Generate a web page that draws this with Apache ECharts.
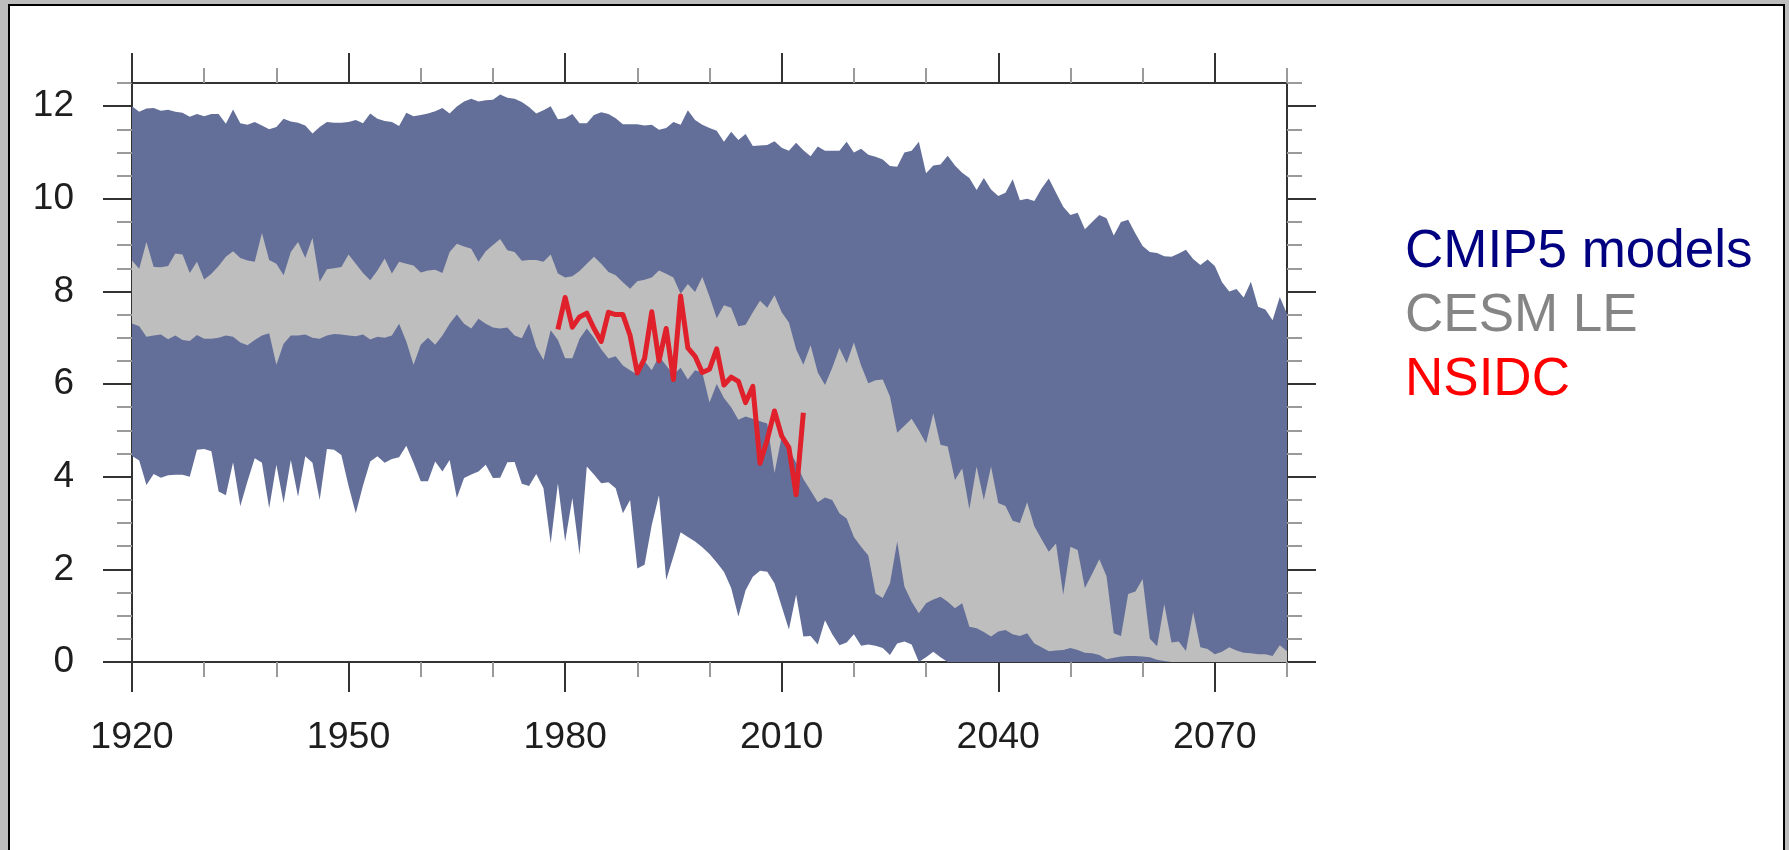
<!DOCTYPE html>
<html>
<head>
<meta charset="utf-8">
<title>Arctic sea ice extent</title>
<script src="https://cdn.jsdelivr.net/npm/echarts@6/dist/echarts.min.js"></script>
<style>
  html, body { margin: 0; padding: 0; width: 1789px; height: 850px; overflow: hidden; background: #bdbdbd; }
  #frame { position: absolute; left: 8px; top: 4px; width: 1777px; height: 900px; box-sizing: border-box;
           border: 2px solid #000; border-bottom: none; background: #fff; }
  #chart { position: absolute; left: 0; top: 0; width: 1789px; height: 850px; }
</style>
</head>
<body>
<div id="frame"></div>
<div id="chart"></div>
<script>
// Annual values, one per year starting at firstYear
const firstYear = 1920;

// CMIP5 models: ensemble maximum and minimum (million km²)
const cmipMax = [
  12.0, 11.88, 11.95, 11.96, 11.9, 11.92, 11.88, 11.86, 11.77, 11.83,
  11.78, 11.83, 11.83, 11.62, 11.93, 11.63, 11.6, 11.66, 11.58, 11.5,
  11.55, 11.73, 11.67, 11.64, 11.58, 11.41, 11.55, 11.66, 11.64, 11.64,
  11.66, 11.7, 11.63, 11.84, 11.73, 11.68, 11.66, 11.57, 11.86, 11.78,
  11.81, 11.84, 11.89, 11.96, 11.84, 11.99, 12.1, 12.16, 12.1, 12.13,
  12.14, 12.25, 12.18, 12.16, 12.09, 11.98, 11.84, 11.91, 12.0, 11.72,
  11.74, 11.83, 11.63, 11.63, 11.81, 11.87, 11.83, 11.74, 11.61, 11.61,
  11.61, 11.58, 11.6, 11.49, 11.53, 11.66, 11.6, 11.91, 11.7, 11.6,
  11.53, 11.47, 11.23, 11.45, 11.27, 11.4, 11.14, 11.15, 11.16, 11.24,
  11.1, 11.04, 11.21, 11.05, 10.92, 11.13, 11.04, 11.04, 11.04, 11.23,
  11.0, 11.08, 10.95, 10.91, 10.85, 10.71, 10.69, 11.0, 11.04, 11.23,
  10.55, 10.72, 10.74, 10.93, 10.72, 10.56, 10.45, 10.19, 10.45, 10.2,
  10.06, 10.13, 10.42, 9.97, 10.0, 9.95, 10.22, 10.44, 10.13, 9.83,
  9.65, 9.7, 9.34, 9.5, 9.65, 9.58, 9.21, 9.5, 9.55, 9.25,
  8.98, 8.85, 8.83, 8.76, 8.75, 8.82, 8.9, 8.7, 8.57, 8.69,
  8.55, 8.2, 8.0, 8.05, 7.87, 8.21, 7.67, 7.61, 7.38, 7.88,
  7.52
];
const cmipMin = [
  4.45, 4.35, 3.82, 4.06, 3.98, 4.03, 4.04, 4.04, 4.0, 4.58,
  4.6, 4.55, 3.68, 3.6, 4.31, 3.36, 3.9, 4.4, 4.3, 3.32,
  4.26, 3.43, 4.36, 3.57, 4.44, 4.3, 3.5, 4.6, 4.58, 4.47,
  3.8, 3.21, 3.81, 4.33, 4.44, 4.3, 4.38, 4.42, 4.67, 4.3,
  3.9, 3.9, 4.33, 4.11, 4.36, 3.54, 3.97, 4.05, 4.11, 4.26,
  3.97, 3.98, 4.31, 4.32, 3.85, 3.8, 4.06, 3.75, 2.56, 3.86,
  2.6, 3.54, 2.31, 4.22, 4.05, 3.86, 3.88, 3.75, 3.21, 3.5,
  2.02, 2.1, 2.96, 3.6, 1.77, 2.28, 2.8, 2.7, 2.6, 2.48,
  2.33, 2.15, 1.95, 1.6, 0.98, 1.55, 1.84, 1.97, 1.95, 1.7,
  1.2, 0.7, 1.45, 0.55, 0.56, 0.38, 0.9, 0.6, 0.36, 0.42,
  0.6, 0.35, 0.38, 0.35, 0.3, 0.15, 0.4, 0.44, 0.38, 0.0,
  0.1, 0.22, 0.1, 0, 0, 0, 0, 0, 0, 0,
  0, 0, 0, 0, 0, 0, 0, 0, 0, 0,
  0, 0, 0, 0, 0, 0, 0, 0, 0, 0,
  0, 0, 0, 0, 0, 0, 0, 0, 0, 0,
  0, 0, 0, 0, 0, 0, 0, 0, 0, 0,
  0
];

// CESM Large Ensemble: ensemble maximum and minimum
const cesmMax = [
  8.67, 8.49, 9.07, 8.53, 8.52, 8.55, 8.82, 8.8, 8.4, 8.64,
  8.26, 8.38, 8.55, 8.75, 8.87, 8.72, 8.67, 8.64, 9.26, 8.68,
  8.6, 8.35, 8.85, 9.07, 8.72, 9.16, 8.21, 8.48, 8.5, 8.53,
  8.8, 8.6, 8.4, 8.24, 8.45, 8.71, 8.39, 8.64, 8.6, 8.56,
  8.41, 8.45, 8.47, 8.4, 8.85, 9.03, 8.97, 8.92, 8.64, 8.87,
  9.0, 9.13, 8.89, 8.85, 8.66, 8.68, 8.68, 8.64, 8.8, 8.39,
  8.3, 8.33, 8.44, 8.6, 8.75, 8.6, 8.42, 8.35, 8.2, 8.06,
  8.22, 8.25, 8.3, 8.45, 8.38, 8.3, 7.95, 8.16, 7.99, 8.31,
  7.89, 7.42, 7.7, 7.65, 7.25, 7.28, 7.55, 7.8, 7.65, 7.92,
  7.55, 7.33, 6.75, 6.42, 6.84, 6.25, 5.98, 6.35, 6.78, 6.45,
  6.9, 6.4, 6.02, 6.08, 6.1, 5.73, 4.95, 5.1, 5.25, 5.0,
  4.72, 5.37, 4.69, 4.65, 3.93, 4.18, 3.3, 4.22, 3.5, 4.22,
  3.43, 3.37, 3.05, 3.0, 3.45, 2.93, 2.65, 2.38, 2.56, 1.45,
  2.49, 2.42, 1.6, 1.9, 2.22, 1.85, 0.62, 0.56, 1.47, 1.52,
  1.79, 0.5, 0.34, 1.25, 0.42, 0.44, 0.24, 1.08, 0.32, 0.28,
  0.17, 0.22, 0.32, 0.25, 0.2, 0.19, 0.17, 0.17, 0.13, 0.36,
  0.23
];
const cesmMin = [
  7.31, 7.25, 7.02, 7.05, 7.07, 6.97, 7.05, 6.95, 6.93, 7.06,
  6.98, 6.98, 7.0, 7.05, 7.02, 6.9, 6.84, 6.95, 7.05, 7.1,
  6.42, 6.87, 7.05, 7.05, 7.07, 7.0, 6.98, 7.05, 7.08, 7.07,
  7.05, 7.03, 7.07, 6.96, 7.02, 7.0, 7.05, 7.3, 6.92, 6.42,
  6.85, 7.0, 6.85, 7.05, 7.3, 7.5, 7.3, 7.2, 7.41, 7.3,
  7.22, 7.2, 7.22, 7.05, 6.99, 7.31, 6.8, 6.52, 7.16, 6.95,
  6.56, 6.56, 6.98, 7.2, 7.0, 6.75, 6.55, 6.6, 6.4, 6.3,
  6.2, 6.5, 6.3, 6.6, 6.4, 6.2, 6.35, 6.1, 6.3, 6.25,
  5.6, 6.0, 5.7, 5.5, 5.23, 5.3, 5.25, 5.2, 5.15, 4.08,
  4.87, 4.58, 4.3, 3.95, 3.7, 3.45, 3.55, 3.5, 3.21, 3.1,
  2.7, 2.49, 2.3, 1.48, 1.38, 1.7, 2.6, 1.63, 1.3, 1.05,
  1.27, 1.35, 1.41, 1.3, 1.16, 1.27, 0.76, 0.73, 0.65, 0.55,
  0.66, 0.69, 0.6, 0.56, 0.62, 0.4, 0.32, 0.23, 0.25, 0.26,
  0.3, 0.26, 0.2, 0.19, 0.15, 0.06, 0.09, 0.12, 0.13, 0.13,
  0.12, 0.1, 0.05, 0.02, 0, 0, 0, 0, 0, 0,
  0, 0, 0, 0, 0, 0, 0, 0, 0, 0,
  0
];

// NSIDC observations, 1979-2013
const nsidcFirstYear = 1979;
const nsidc = [
  7.18, 7.87, 7.23, 7.45, 7.53, 7.2, 6.92, 7.55, 7.5, 7.5,
  7.05, 6.24, 6.55, 7.56, 6.5, 7.2, 6.1, 7.9, 6.78, 6.6,
  6.25, 6.32, 6.76, 5.98, 6.15, 6.06, 5.6, 5.95, 4.29, 4.8,
  5.42, 4.88, 4.63, 3.61, 5.38
];

// Axis ticks
const xMajorTicks = [1920, 1950, 1980, 2010, 2040, 2070];
const xMinorTicks = [1930, 1940, 1960, 1970, 1990, 2000, 2020, 2030, 2050, 2060, 2080];
const yMajorTicks = [0, 2, 4, 6, 8, 10, 12];
const yMinorTicks = [0.5, 1, 1.5, 2.5, 3, 3.5, 4.5, 5, 5.5, 6.5, 7, 7.5, 8.5, 9, 9.5, 10.5, 11, 11.5, 12.5];

// Legend entries
const legendNames = ['CMIP5 models', 'CESM LE', 'NSIDC'];
const legendColors = ['#000080', '#858585', '#ff0000'];

const BLUE = '#636f99';
const GREY = '#bebebe';
const RED = '#e0202a';
const AXIS = '#333333';
const MINOR = '#9a9a9a';
const FONT = 'Liberation Sans, Arial, Helvetica, sans-serif';

const X_MIN = 1920, X_MAX = 2080, Y_MIN = 0, Y_MAX = 12.5;

function xAxisDef(pos, ticks, len, color, withLine, withLabels) {
  return {
    type: 'value', position: pos, min: X_MIN, max: X_MAX,
    splitLine: { show: false },
    axisLine: { show: withLine, onZero: false, lineStyle: { color: AXIS, width: 2 } },
    axisTick: { show: true, customValues: ticks, length: len, lineStyle: { color: color, width: 2 } },
    axisLabel: withLabels ? {
      show: true, customValues: ticks, margin: 57,
      fontSize: 37.5, color: '#1e1e1e', fontFamily: FONT,
      formatter: (v) => String(v)
    } : { show: false }
  };
}
function yAxisDef(pos, ticks, len, color, withLine, withLabels) {
  return {
    type: 'value', position: pos, min: Y_MIN, max: Y_MAX,
    splitLine: { show: false },
    axisLine: { show: withLine, onZero: false, lineStyle: { color: AXIS, width: 2 } },
    axisTick: { show: true, customValues: ticks, length: len, lineStyle: { color: color, width: 2 } },
    axisLabel: withLabels ? {
      show: true, customValues: ticks, margin: 58,
      fontSize: 37, color: '#1e1e1e', fontFamily: FONT,
      padding: [8, 0, 0, 0],
      formatter: (v) => String(v)
    } : { show: false }
  };
}

// A filled band between the yearly lower and upper bounds, drawn as one polygon
function bandSeries(name, upper, lower, color) {
  const rows = upper.map((v, i) => [firstYear + i, lower[i], v]);
  return {
    type: 'custom', name: name, data: rows,
    encode: { x: 0, y: [1, 2] },
    silent: true, clip: true,
    renderItem: (params, api) => {
      if (params.dataIndex !== 0) return null;
      const top = rows.map(r => api.coord([r[0], r[2]]));
      const bottom = rows.slice().reverse().map(r => api.coord([r[0], r[1]]));
      return {
        type: 'polygon',
        shape: { points: top.concat(bottom) },
        style: { fill: color, stroke: null }
      };
    }
  };
}

const chart = echarts.init(document.getElementById('chart'), null, { renderer: 'canvas' });

chart.setOption({
  animation: false,
  backgroundColor: 'transparent',
  grid: { left: 132, top: 83, width: 1155, height: 579, containLabel: false },
  xAxis: [
    xAxisDef('bottom', xMajorTicks, 30, AXIS, true, true),
    xAxisDef('bottom', xMinorTicks, 15, MINOR, false, false),
    xAxisDef('top', xMajorTicks, 30, AXIS, true, false),
    xAxisDef('top', xMinorTicks, 15, MINOR, false, false)
  ],
  yAxis: [
    yAxisDef('left', yMajorTicks, 29, AXIS, true, true),
    yAxisDef('left', yMinorTicks, 15, MINOR, false, false),
    yAxisDef('right', yMajorTicks, 29, AXIS, true, false),
    yAxisDef('right', yMinorTicks, 15, MINOR, false, false)
  ],
  series: [
    bandSeries('CMIP5 models', cmipMax, cmipMin, BLUE),
    bandSeries('CESM LE', cesmMax, cesmMin, GREY),
    {
      name: 'NSIDC', type: 'line', symbol: 'none', silent: true,
      data: nsidc.map((v, i) => [nsidcFirstYear + i, v]),
      lineStyle: { color: RED, width: 5, join: 'round' }
    }
  ],
  graphic: legendNames.map((name, i) => ({
    type: 'text', x: 1405, y: 252 + i * 64,
    style: {
      text: name, fill: legendColors[i],
      font: '53px ' + FONT, align: 'left', verticalAlign: 'middle'
    }
  }))
});
</script>
</body>
</html>
